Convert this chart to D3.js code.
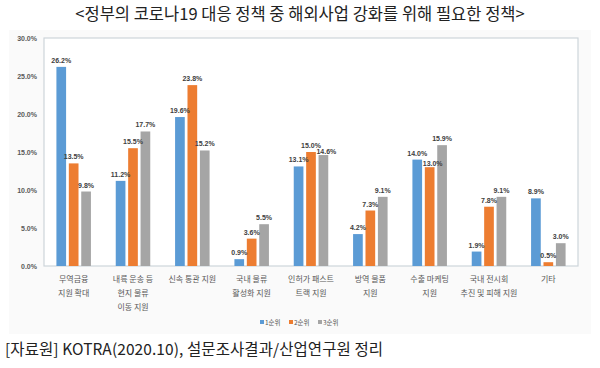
<!DOCTYPE html>
<html>
<head>
<meta charset="utf-8">
<script src="https://cdn.jsdelivr.net/npm/d3@7"></script>
<style>
body { margin: 0; background: #fff; }
svg { display: block; font-family: "Noto Sans CJK KR", "Noto Sans", sans-serif; }
</style>
</head>
<body>
<script>
var w = 600;
var h = 368;

// categories (line-broken as in the chart)
var categories = [
  ["무역금융", "지원 확대"],
  ["내륙 운송 등", "현지 물류", "이동 지원"],
  ["신속 통관 지원"],
  ["국내 물류", "활성화 지원"],
  ["인허가 패스트", "트랙 지원"],
  ["방역 물품", "지원"],
  ["수출 마케팅", "지원"],
  ["국내 전시회", "추진 및 피해 지원"],
  ["기타"]
];
var seriesNames = ["1순위", "2순위", "3순위"];
var rank1 = [26.2, 11.2, 19.6, 0.9, 13.1, 4.2, 14.0, 1.9, 8.9];
var rank2 = [13.5, 15.5, 23.8, 3.6, 15.0, 7.3, 13.0, 7.8, 0.5];
var rank3 = [9.8, 17.7, 15.2, 5.5, 14.6, 9.1, 15.9, 9.1, 3.0];
var yTicks = [0, 5, 10, 15, 20, 25, 30];

var colors = ["#5b9bd5", "#ed7d31", "#a5a5a5"];
var series = [rank1, rank2, rank3];

var margin = {left: 44, right: 22, top: 38, bottom: 102};

var svg = d3.select("body").append("svg")
  .attr("width", w)
  .attr("height", h);

// faint backdrop of the pasted chart
svg.append("rect")
  .attr("x", 9).attr("y", 30)
  .attr("width", 582).attr("height", 304)
  .attr("fill", "#fafafa");

svg.append("text")
  .attr("x", w / 2).attr("y", 20)
  .attr("text-anchor", "middle")
  .attr("font-size", 16.5)
  .attr("fill", "#222")
  .text("<정부의 코로나19 대응 정책 중 해외사업 강화를 위해 필요한 정책>");

var x0 = d3.scaleBand()
  .domain(d3.range(categories.length))
  .range([margin.left, w - margin.right]);

var x1 = d3.scaleBand()
  .domain(d3.range(series.length))
  .range([0, x0.bandwidth()])
  .paddingInner(0.22)
  .paddingOuter(1.0);

var y = d3.scaleLinear()
  .domain([0, 30])
  .range([h - margin.bottom, margin.top]);

// plot box
svg.append("rect")
  .attr("x", margin.left).attr("y", margin.top)
  .attr("width", w - margin.right - margin.left)
  .attr("height", y(0) - margin.top)
  .attr("fill", "#fff")
  .attr("stroke", "#cdd5da")
  .attr("stroke-width", 1.2);

// y axis labels
var yAxis = svg.append("g")
  .attr("transform", "translate(" + (margin.left - 4) + ",0)")
  .call(d3.axisLeft(y).tickValues(yTicks).tickSize(0)
    .tickFormat(function(d) { return d.toFixed(1) + "%"; }));
yAxis.select(".domain").remove();
yAxis.selectAll("text")
  .attr("font-size", 7)
  .attr("font-weight", "bold")
  .attr("fill", "#595959")
  .attr("font-family", "Liberation Sans, sans-serif");

// bars
var groups = svg.selectAll("g.cat")
  .data(categories)
  .enter().append("g")
  .attr("class", "cat")
  .attr("transform", function(d, i) { return "translate(" + x0(i) + ",0)"; });

function cells(d, i) {
  return series.map(function(s, k) {
    return {k: k, v: s[i], prev: k > 0 ? series[k - 1][i] : null};
  });
}

function crowded(d) {
  return d.prev !== null && Math.abs(y(d.prev) - y(d.v)) < 8;
}

groups.selectAll("rect")
  .data(cells)
  .enter().append("rect")
  .attr("x", function(d) { return x1(d.k); })
  .attr("width", x1.bandwidth())
  .attr("y", function(d) { return y(d.v); })
  .attr("height", function(d) { return y(0) - y(d.v); })
  .attr("fill", function(d) { return colors[d.k]; });

// labels: nudge when the neighbour's label sits at almost the same height
groups.selectAll("text.val")
  .data(cells)
  .enter().append("text")
  .attr("class", "val")
  .attr("x", function(d) { return x1(d.k) + x1.bandwidth() / 2 + (crowded(d) ? 3 : 0); })
  .attr("y", function(d) { return y(d.v) - 4 + (crowded(d) && d.prev > d.v ? 3 : 0); })
  .attr("text-anchor", "middle")
  .attr("font-size", 7)
  .attr("font-weight", "bold")
  .attr("fill", "#404040")
  .attr("font-family", "Liberation Sans, sans-serif")
  .text(function(d) { return d.v.toFixed(1) + "%"; });

// category labels
groups.append("text")
  .attr("text-anchor", "middle")
  .attr("font-size", 8)
  .attr("fill", "#595959")
  .selectAll("tspan")
  .data(function(d) { return d; })
  .enter().append("tspan")
  .attr("x", x0.bandwidth() / 2)
  .attr("y", function(d, i) { return y(0) + 16 + i * 14; })
  .text(function(d) { return d; });

// legend
var legend = svg.append("g").attr("transform", "translate(260,325)");
var lx = 0;
seriesNames.forEach(function(name, k) {
  legend.append("rect")
    .attr("x", lx).attr("y", -5)
    .attr("width", 4).attr("height", 4)
    .attr("fill", colors[k]);
  legend.append("text")
    .attr("x", lx + 5).attr("y", 0)
    .attr("font-size", 6.5)
    .attr("fill", "#595959")
    .text(name);
  lx += 29;
});

svg.append("text")
  .attr("x", 5).attr("y", 355)
  .attr("font-size", 15.5)
  .attr("fill", "#222")
  .attr("textLength", 378)
  .text("[자료원] KOTRA(2020.10), 설문조사결과/산업연구원 정리");
</script>
</body>
</html>
